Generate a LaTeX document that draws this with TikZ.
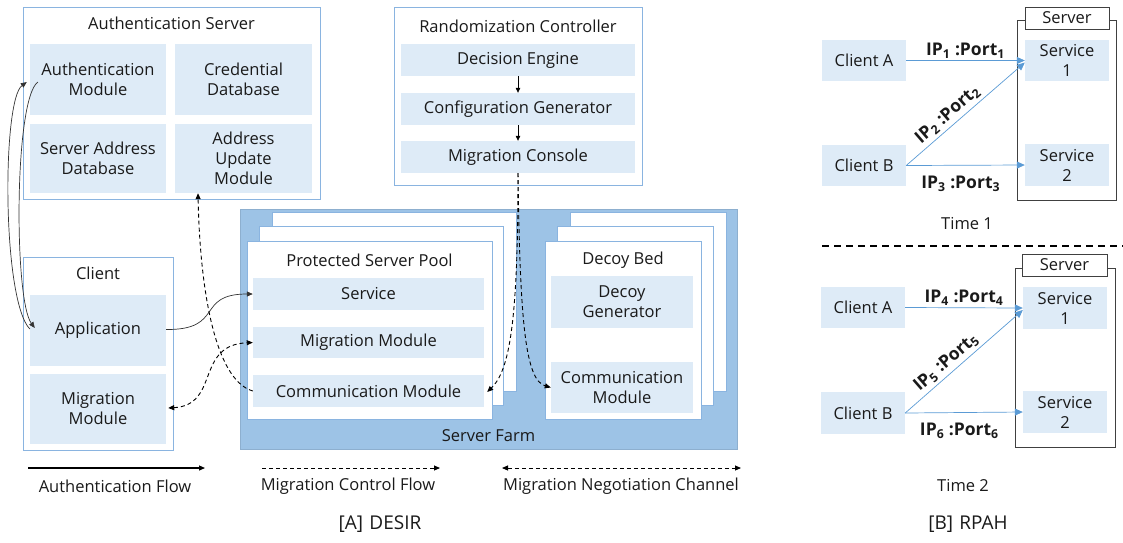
\documentclass[tikz,border=0pt]{standalone}
\usepackage{fontspec}
\setmainfont{Open Sans}
\usetikzlibrary{arrows.meta,calc}
\definecolor{innerfill}{HTML}{DEEBF7}
\definecolor{bord}{HTML}{8AB4E0}
\definecolor{farm}{HTML}{9DC3E6}
\definecolor{txt}{HTML}{1A1A1A}
\definecolor{rarrow}{HTML}{5B9BD5}
\begin{document}
\begin{tikzpicture}[x=1pt,y=-1pt,
  font=\fontsize{16.5}{19}\selectfont, text=txt,
  outerbox/.style={draw=bord, fill=white, line width=1pt, inner sep=0pt},
  modbox/.style={fill=innerfill, align=center, inner sep=0pt, font=\fontsize{16.5}{20}\selectfont},
  title/.style={inner sep=0pt, anchor=center},
  srvbox/.style={draw=black!75, fill=white, line width=0.9pt, inner sep=0pt},
  authflow/.style={draw=black!80, line width=0.7pt, -{Triangle[length=6pt,width=5pt]}},
  ctrlflow/.style={draw=black, line width=0.9pt, dash pattern=on 4pt off 3pt, -{Triangle[length=6pt,width=5pt]}},
  negflow/.style={draw=black, line width=0.9pt, dash pattern=on 4pt off 3pt, {Triangle[length=6pt,width=5pt]}-{Triangle[length=6pt,width=5pt]}},
  rpah/.style={draw=rarrow, line width=0.7pt, -{Triangle[length=8pt,width=7pt]}},
  iplabel/.style={font=\fontsize{17.5}{19}\selectfont\bfseries, inner sep=1pt}
]
\useasboundingbox (0,0) rectangle (1123,542);

% ---------- Authentication Server ----------
\node[outerbox, minimum width=297, minimum height=192] (as) at (171.5,103) {};
\node[title] (astitle) at (171.5,23) {Authentication Server};
\node[modbox, minimum width=136, minimum height=71] (am) at (98,79.5) {Authentication\\Module};
\node[modbox, minimum width=137, minimum height=71] (cd) at (243.5,79.5) {Credential\\Database};
\node[modbox, minimum width=136, minimum height=69] (sad) at (98,158.5) {Server Address\\Database};
\node[modbox, minimum width=137, minimum height=69] (aum) at (243.5,158.5) {Address\\Update\\Module};

% ---------- Randomization Controller ----------
\node[outerbox, minimum width=248, minimum height=178] (rc) at (518,96) {};
\node[title] (rctitle) at (518,26) {Randomization Controller};
\node[modbox, minimum width=234, minimum height=32] (de) at (518,60) {Decision Engine};
\node[modbox, minimum width=234, minimum height=32] (cg) at (518,109) {Configuration Generator};
\node[modbox, minimum width=234, minimum height=32] (mc) at (518,157) {Migration Console};
\draw[draw=black, line width=0.7pt, -{Triangle[length=5pt,width=4.5pt]}] (de) -- (cg);
\draw[draw=black, line width=0.7pt, -{Triangle[length=5pt,width=4.5pt]}] (cg) -- (mc);

% ---------- Client ----------
\node[outerbox, minimum width=150, minimum height=193] (cl) at (98,353.5) {};
\node[title] (cltitle) at (98,273) {Client};
\node[modbox, minimum width=136, minimum height=71] (app) at (98,330.5) {Application};
\node[modbox, minimum width=136, minimum height=70] (cmm) at (98,409) {Migration\\Module};

% ---------- Server Farm ----------
\node[fill=farm, draw=farm!90!black, line width=0.4pt, minimum width=497, minimum height=240, inner sep=0pt] (sf) at (488.5,329) {};
\node[title] (sftitle) at (488.5,436) {Server Farm};

% Protected Server Pool stack
\node[outerbox, minimum width=244, minimum height=179] (pspb1) at (394,301.5) {};
\node[outerbox, minimum width=244, minimum height=179] (pspb2) at (381,315.5) {};
\node[outerbox, minimum width=245, minimum height=178] (psp) at (369.5,330) {};
\node[title] (psptitle) at (369.5,260) {Protected Server Pool};
\node[modbox, minimum width=231, minimum height=32] (svc) at (368.5,294) {Service};
\node[modbox, minimum width=231, minimum height=31] (smm) at (368.5,342.5) {Migration Module};
\node[modbox, minimum width=231, minimum height=32] (scm) at (368.5,391) {Communication Module};

% Decoy Bed stack
\node[outerbox, minimum width=156, minimum height=179] (dbb1) at (648,301.5) {};
\node[outerbox, minimum width=156, minimum height=179] (dbb2) at (635,315.5) {};
\node[outerbox, minimum width=156, minimum height=178] (db) at (623,330) {};
\node[title] (dbtitle) at (623,260) {Decoy Bed};
\node[modbox, minimum width=142, minimum height=52] (dg) at (622,302) {Decoy\\Generator};
\node[modbox, minimum width=142, minimum height=51] (dcm) at (622,387.5) {Communication\\Module};

% ---------- DESIR connectors ----------
\draw[authflow] ($(app.west)+(0,-1.5)$) .. controls (2,300) and (2,100) .. ($(am.west)+(-3,2.5)$);
\draw[authflow] ($(am.west)+(8,2.5)$) .. controls (14,100) and (14,300) .. ($(app.west)+(5,-2.5)$);
\draw[authflow] ($(app.east)+(0,-1)$) .. controls (225,330) and (195,294) .. (svc.west);
\draw[negflow] ($(cmm.east)+(2,-1)$) .. controls (220,405) and (195,345) .. (smm.west);
\draw[ctrlflow] (scm.west) .. controls (215,380) and (200,290) .. ([xshift=-45.5pt]aum.south);
\draw[ctrlflow] (mc.south) .. controls (518,320) and (510,370) .. ($(scm.east)+(3,1)$);
\draw[ctrlflow] (mc.south) .. controls (520,320) and (525,380) .. (dcm.west);

% ---------- Legend ----------
\coordinate (l1a) at (28,468); \coordinate (l1b) at (205,468);
\coordinate (l2a) at (262,468); \coordinate (l2b) at (440,468);
\coordinate (l3a) at (502,468); \coordinate (l3b) at (741,468);
\draw[draw=black, line width=1.2pt, -{Triangle[length=6pt,width=5pt]}] (l1a) -- (l1b);
\draw[ctrlflow] (l2a) -- (l2b);
\draw[negflow] (l3a) -- (l3b);
\node[title] (lt1) at (115,486) {Authentication Flow};
\node[title] (lt2) at (348,486) {Migration Control Flow};
\node[title] (lt3) at (621,486) {Migration Negotiation Channel};
\node[title, font=\fontsize{19}{21}\selectfont] (capA) at (380,524) {[A]\,\,DESIR};

% ---------- RPAH Time 1 ----------
\node[srvbox, minimum width=99, minimum height=180] (srv1) at (1066.5,110) {};
\node[srvbox, minimum width=84, minimum height=22] (srvl1) at (1067,18) {};
\node[title] at (srvl1) {Server};
\node[modbox, minimum width=84, minimum height=41] (ca1) at (864,60.5) {Client A};
\node[modbox, minimum width=84, minimum height=41] (cb1) at (864,165.5) {Client B};
\node[modbox, minimum width=84, minimum height=41] (s11) at (1067,60.5) {Service\\1};
\node[modbox, minimum width=84, minimum height=42] (s21) at (1067,165) {Service\\2};
\draw[rpah] (ca1.east) -- node[iplabel, above=1pt, pos=0.5] {IP\textsubscript{1} :Port\textsubscript{1}} (s11.west);
\draw[rpah] (cb1.east) -- node[iplabel, above=2pt, sloped, pos=0.41] {IP\textsubscript{2} :Port\textsubscript{2}} ($(s11.west)+(0,2)$);
\draw[rpah] (cb1.east) -- node[iplabel, below=9pt, pos=0.46] {IP\textsubscript{3} :Port\textsubscript{3}} (s21.west);
\node[title] (t1) at (967,224) {Time 1};

\coordinate (dla) at (822,246); \coordinate (dlb) at (1123,246);
\draw[draw=black, line width=1.4pt, dash pattern=on 7pt off 5pt] (dla) -- (dlb);

% ---------- RPAH Time 2 ----------
\node[srvbox, minimum width=100, minimum height=179] (srv2) at (1065,357.5) {};
\node[srvbox, minimum width=85, minimum height=22] (srvl2) at (1064.5,265) {};
\node[title] at (srvl2) {Server};
\node[modbox, minimum width=84, minimum height=41] (ca2) at (863,307.5) {Client A};
\node[modbox, minimum width=84, minimum height=42] (cb2) at (863,413) {Client B};
\node[modbox, minimum width=84, minimum height=42] (s12) at (1065,308) {Service\\1};
\node[modbox, minimum width=84, minimum height=42] (s22) at (1065,412) {Service\\2};
\draw[rpah] (ca2.east) -- node[iplabel, above=1pt, pos=0.5] {IP\textsubscript{4} :Port\textsubscript{4}} (s12.west);
\draw[rpah] (cb2.east) -- node[iplabel, above=2pt, sloped, pos=0.41] {IP\textsubscript{5} :Port\textsubscript{5}} ($(s12.west)+(0,2)$);
\draw[rpah] (cb2.east) -- node[iplabel, below=9pt, pos=0.46] {IP\textsubscript{6} :Port\textsubscript{6}} (s22.west);
\node[title] (t2) at (963,486) {Time 2};
\node[title, font=\fontsize{19}{21}\selectfont] (capB) at (968,524) {[B]\,\,RPAH};
\end{tikzpicture}
\end{document}
